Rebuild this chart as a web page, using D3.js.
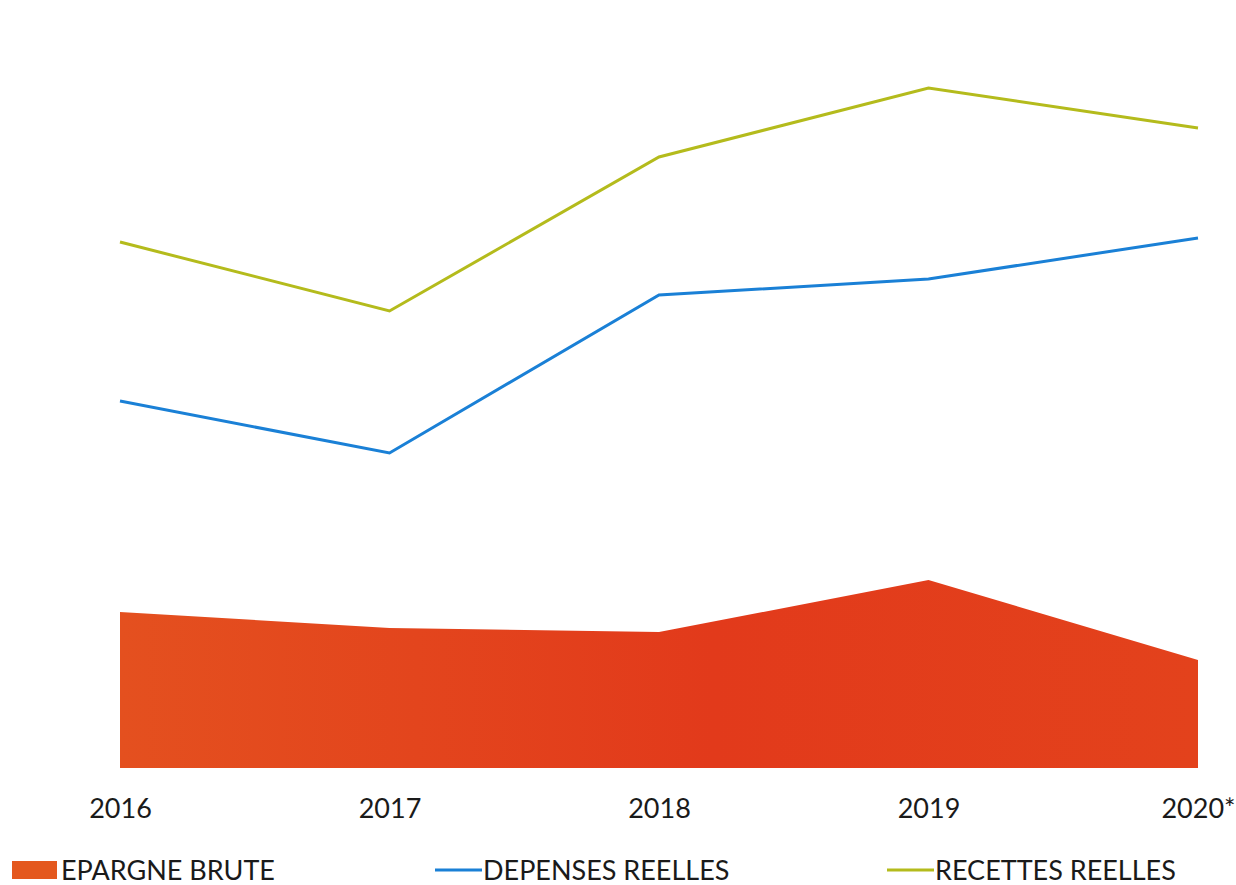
<!DOCTYPE html>
<html>
<head>
<meta charset="utf-8">
<script src="https://cdn.jsdelivr.net/npm/d3@7"></script>
<style>
  body { margin: 0; background: #fff; }
  text { font-family: Lato, "Open Sans", sans-serif; fill: #1a1a1a; }
</style>
</head>
<body>
<svg id="chart" width="1236" height="885"></svg>
<script>
// Années (axe x)
const years = ['2016', '2017', '2018', '2019', '2020*'];

// Séries (unités relatives)
const epargneBrute = [156, 140, 136, 188, 108];
const depensesReelles = [367, 315, 473, 489, 530];
const recettesReelles = [526, 457, 611, 680, 640];

// Légende
const legendLabels = ['EPARGNE BRUTE', 'DEPENSES REELLES', 'RECETTES REELLES'];

const colors = { epargne: '#e4481c', depenses: '#1a80d6', recettes: '#b4bb1c' };

const svg = d3.select('#chart');

const x = d3.scalePoint()
    .domain(years)
    .range([120, 1198]);

const y = d3.scaleLinear()
    .domain([0, 700])
    .range([768, 68]);

// Dégradé léger pour rappeler la texture de l'aire
const defs = svg.append('defs');
const grad = defs.append('linearGradient')
    .attr('id', 'areaGrad')
    .attr('x1', 0).attr('x2', 1).attr('y1', 0).attr('y2', 0);
grad.append('stop').attr('offset', '0%').attr('stop-color', '#e4501f');
grad.append('stop').attr('offset', '55%').attr('stop-color', '#e23a1b');
grad.append('stop').attr('offset', '100%').attr('stop-color', '#e3421c');

// Aire épargne brute
const area = d3.area()
    .x((d, i) => x(years[i]))
    .y0(y(0))
    .y1(d => y(d));

svg.append('path')
    .datum(epargneBrute)
    .attr('d', area)
    .attr('fill', 'url(#areaGrad)');

// Lignes
const line = d3.line()
    .x((d, i) => x(years[i]))
    .y(d => y(d));

svg.append('path')
    .datum(depensesReelles)
    .attr('d', line)
    .attr('fill', 'none')
    .attr('stroke', colors.depenses)
    .attr('stroke-width', 3);

svg.append('path')
    .datum(recettesReelles)
    .attr('d', line)
    .attr('fill', 'none')
    .attr('stroke', colors.recettes)
    .attr('stroke-width', 3);

// Axe x (étiquettes seules)
const xAxis = svg.append('g')
    .attr('transform', `translate(0, ${y(0)})`)
    .call(d3.axisBottom(x).tickSize(0).tickPadding(31));
xAxis.select('.domain').remove();
xAxis.selectAll('text')
    .attr('font-size', 27)
    .attr('fill', '#1a1a1a')
    .style('font-family', 'Lato, "Open Sans", sans-serif');

// Légende
const legend = svg.append('g').attr('transform', 'translate(0, 870)');

legend.append('rect')
    .attr('x', 12).attr('y', -9)
    .attr('width', 45).attr('height', 18)
    .attr('fill', '#e4581e');
legend.append('text')
    .attr('x', 61).attr('y', 10)
    .attr('font-size', 27)
    .text(legendLabels[0]);

legend.append('line')
    .attr('x1', 435).attr('x2', 482)
    .attr('y1', 0).attr('y2', 0)
    .attr('stroke', colors.depenses)
    .attr('stroke-width', 3);
legend.append('text')
    .attr('x', 483).attr('y', 10)
    .attr('font-size', 27)
    .text(legendLabels[1]);

legend.append('line')
    .attr('x1', 887).attr('x2', 934)
    .attr('y1', 0).attr('y2', 0)
    .attr('stroke', colors.recettes)
    .attr('stroke-width', 3);
legend.append('text')
    .attr('x', 935).attr('y', 10)
    .attr('font-size', 27)
    .text(legendLabels[2]);
</script>
</body>
</html>
